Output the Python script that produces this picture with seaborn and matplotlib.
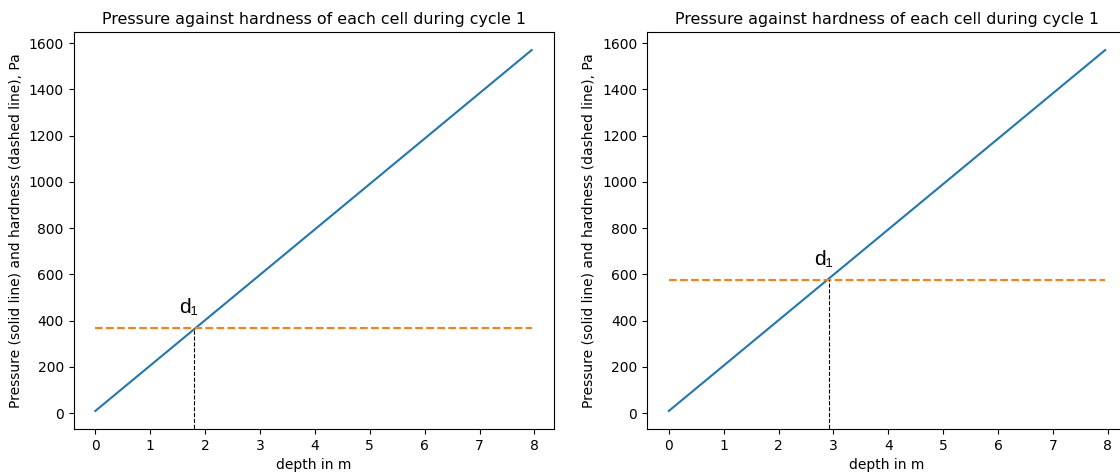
import matplotlib
matplotlib.use("Agg")
import matplotlib.pyplot as plt
import seaborn as sns
import pandas as pd

# Pressure profile (solid line) shared by both cells
depth = [0.0, 7.95]
pressure = [10.0, 1570.0]

# Hardness of each cell (dashed line) and the depth where pressure reaches it
hardness = [370.0, 578.0]
d1 = [1.80, 2.92]

title = "Pressure against hardness of each cell during cycle 1"
xlabel = "depth in m"
ylabel = "Pressure (solid line) and hardness (dashed line), Pa"

W, H = 1120, 473
fig = plt.figure(figsize=(W / 100, H / 100), dpi=100)
ax_w, ax_h = 480, 397
bottom = (H - 429) / H
axes = [fig.add_axes([73.5 / W, bottom, ax_w / W, ax_h / H]),
        fig.add_axes([647 / W, bottom, ax_w / W, ax_h / H])]

for ax, h, d in zip(axes, hardness, d1):
    df = pd.DataFrame({"depth": depth, "pressure": pressure, "hardness": [h, h]})
    sns.lineplot(data=df, x="depth", y="pressure", ax=ax, color="#1f77b4", lw=1.5)
    sns.lineplot(data=df, x="depth", y="hardness", ax=ax, color="#ff7f0e",
                 lw=1.5, linestyle="--")
    ylo, yhi = ax.get_ylim()
    ax.vlines(d, ylo - 100, h, colors="black", linestyles="--", lw=0.8)
    ax.set_ylim(ylo, yhi)
    ax.text(d - 0.1, h + 45, "d₁", fontsize=15, ha="center", va="bottom",
            family="Liberation Sans")
    ax.set_title(title, fontsize=11.4)
    ax.set_xlabel(xlabel)
    ax.set_ylabel(ylabel)

fig.savefig("out.png", dpi=100)
